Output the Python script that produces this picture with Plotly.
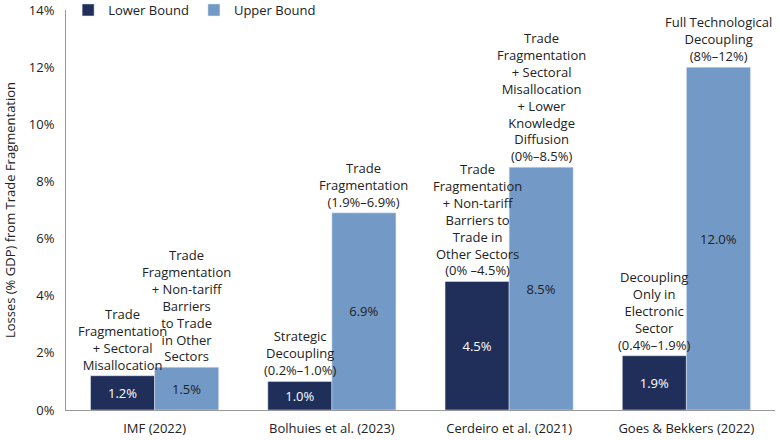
import plotly.graph_objects as go

categories = ["IMF (2022)", "Bolhuies et al. (2023)", "Cerdeiro et al. (2021)", "Goes & Bekkers (2022)"]
lower = [1.2, 1.0, 4.5, 1.9]
upper = [1.5, 6.9, 8.5, 12.0]
lower_notes = [
    "Trade<br>Fragmentation<br>+ Sectoral<br>Misallocation",
    "Strategic<br>Decoupling<br>(0.2%–1.0%)",
    "Trade<br>Fragmentation<br>+ Non-tariff<br>Barriers to<br>Trade in<br>Other Sectors<br>(0% –4.5%)",
    "Decoupling<br>Only in<br>Electronic<br>Sector<br>(0.4%–1.9%)",
]
upper_notes = [
    "Trade<br>Fragmentation<br>+ Non-tariff<br>Barriers<br>to Trade<br>in Other<br>Sectors",
    "Trade<br>Fragmentation<br>(1.9%–6.9%)",
    "Trade<br>Fragmentation<br>+ Sectoral<br>Misallocation<br>+ Lower<br>Knowledge<br>Diffusion<br>(0%–8.5%)",
    "Full Technological<br>Decoupling<br>(8%–12%)",
]
y_ticks = [0, 2, 4, 6, 8, 10, 12, 14]

FONT = "Open Sans"
DARK = "#1f2f5a"
LIGHT = "#7399c6"
TEXT = "#222222"

fig = go.Figure()
fig.add_bar(name="Lower Bound", x=categories, y=lower, marker_color=DARK,
            text=[f"{v:.1f}%" for v in lower], textposition="inside",
            insidetextanchor="middle", textfont=dict(color="white", size=13, family=FONT))
fig.add_bar(name="Upper Bound", x=categories, y=upper, marker_color=LIGHT,
            text=[f"{v:.1f}%" for v in upper], textposition="inside",
            insidetextanchor="middle", textfont=dict(color=TEXT, size=13, family=FONT))

for i, c in enumerate(categories):
    fig.add_annotation(x=c, y=lower[i], text=lower_notes[i], showarrow=False,
                       xshift=-32, yshift=0, yanchor="bottom", xanchor="center",
                       font=dict(size=13, family=FONT, color=TEXT))
    fig.add_annotation(x=c, y=upper[i], text=upper_notes[i], showarrow=False,
                       xshift=32, yshift=0, yanchor="bottom", xanchor="center",
                       font=dict(size=13, family=FONT, color=TEXT))

fig.update_layout(
    width=780, height=440,
    margin=dict(l=66, r=5, t=10, b=30, autoexpand=False),
    barmode="group", bargap=0.277, bargroupgap=0,
    plot_bgcolor="white", paper_bgcolor="white",
    font=dict(family=FONT, size=13, color=TEXT),
    legend=dict(orientation="h", x=0.003, y=1.0, xanchor="left", yanchor="middle",
                font=dict(size=13, family=FONT), bgcolor="rgba(0,0,0,0)",
                itemwidth=30, tracegroupgap=0),
    showlegend=True,
)
fig.update_yaxes(range=[0, 14], tickvals=y_ticks, ticktext=[f"{v}%" for v in y_ticks],
                 showgrid=False, zeroline=False, showline=True, linecolor="#999999",
                 ticks="", tickfont=dict(size=13), ticklabelstandoff=8,
                 title=dict(text="Losses (% GDP) from Trade Fragmentation", font=dict(size=13), standoff=10))
fig.update_xaxes(showgrid=False, showline=True, linecolor="#999999", ticks="",
                 tickfont=dict(size=13), ticklabelstandoff=6)

fig.write_html("out.html")
